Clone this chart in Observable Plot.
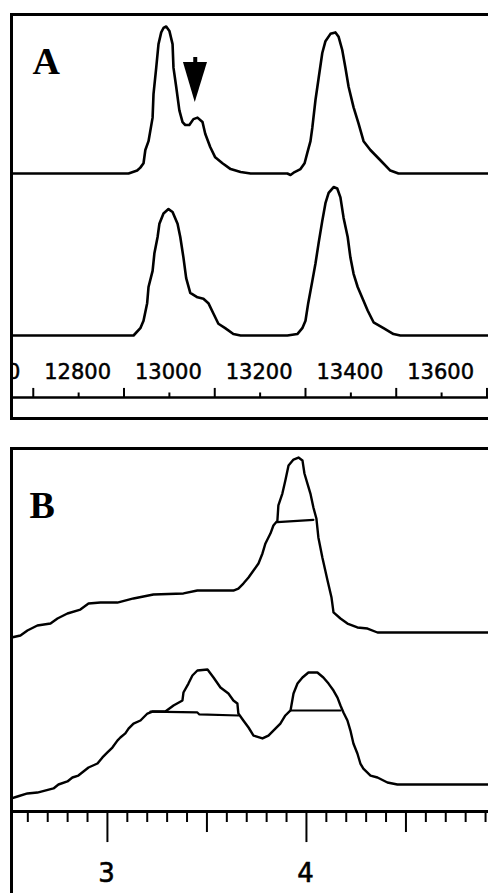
<!DOCTYPE html>
<html><head><meta charset="utf-8">
<script src="https://cdn.jsdelivr.net/npm/d3@7"></script>
<script src="https://cdn.jsdelivr.net/npm/@observablehq/plot@0.6"></script>
<style>
body{margin:0;background:#fff;}
#wrap{width:488px;height:893px;overflow:hidden;position:relative;background:#fff;}
#wrap svg{max-width:none !important;display:block;}
</style></head><body><div id="wrap"></div>
<script>
// ---------- Panel A: mass spectra (m/z) ----------
const massLabeled = [12600, 12800, 13000, 13200, 13400, 13600];
const massLong = [12700, 12900, 13100, 13300, 13500, 13700];
// upper spectrum [mass, intensity]
const specA1 = [[12652,0],[12910,0],[12929,2],[12936,4],[12943,7],[12947,16],[12954,22],[12963,38],[12965,54],[12971,72],[12976,88],[12982,96],[12987,99],[12993,100],[13000,97],[13007,88],[13009,72],[13015,59],[13022,43],[13029,35],[13035,33],[13044,33],[13053,37],[13062,38],[13073,35],[13079,27],[13090,18],[13101,11],[13117,7],[13135,3],[13157,1],[13179,0],[13260,0],[13267,-1],[13276,1],[13289,3],[13298,7],[13304,14],[13311,22],[13315,31],[13322,50],[13329,65],[13337,82],[13344,90],[13355,95],[13366,96],[13373,93],[13381,84],[13388,72],[13395,59],[13406,45],[13417,34],[13428,22],[13443,16],[13465,9],[13487,2],[13505,0],[13721,0]];
// lower spectrum [mass, intensity]
const specA2 = [[12652,0],[12921,0],[12936,5],[12943,10],[12951,22],[12954,33],[12963,44],[12967,56],[12974,67],[12978,76],[12987,83],[12998,86],[13007,84],[13018,76],[13024,67],[13031,53],[13037,39],[13046,29],[13062,26],[13075,25],[13086,22],[13097,15],[13108,8],[13123,5],[13141,1],[13157,0],[13260,0],[13282,1],[13293,5],[13300,10],[13306,22],[13315,37],[13322,49],[13329,63],[13337,78],[13344,90],[13351,97],[13362,101],[13370,100],[13377,94],[13384,80],[13393,67],[13399,53],[13406,42],[13415,33],[13426,25],[13437,17],[13450,9],[13472,5],[13494,1],[13509,0],[13721,0]];
const offsetA = 110.2;
// arrow marking the shoulder (mass, intensity on the stacked scale)
const arrowMass = [13031, 13057, 13084];
const arrowTop = 185.7, arrowTip = 158.5, arrowStemTop = 189.1;

// ---------- Panel B ----------
const bTicks = [2.6,2.7,2.8,2.9,3.0,3.1,3.2,3.3,3.4,3.5,3.6,3.7,3.8,3.9,4.0,4.1,4.2,4.3,4.4,4.5,4.6,4.7,4.8,4.9];
const bLabels = [3, 4];
const traceB1 = [[2.518,-3.3],[2.563,-2.0],[2.598,1.3],[2.648,4.6],[2.714,5.9],[2.749,9.2],[2.799,12.5],[2.864,15.1],[2.905,19.1],[2.965,19.7],[3.050,19.7],[3.131,22.4],[3.231,25.0],[3.382,25.7],[3.452,27.6],[3.633,27.6],[3.658,28.9],[3.683,32.2],[3.709,36.2],[3.734,40.8],[3.759,45.4],[3.779,52.0],[3.794,58.6],[3.819,65.1],[3.834,70.4],[3.854,73.5],[3.859,83.6],[3.879,91.4],[3.894,100.0],[3.910,109.9],[3.935,113.8],[3.960,115.1],[3.980,113.2],[3.990,104.6],[4.005,98.0],[4.020,91.4],[4.035,82.2],[4.050,75.0],[4.060,62.5],[4.080,49.3],[4.106,34.2],[4.126,23.0],[4.136,13.2],[4.171,9.2],[4.206,5.9],[4.256,3.3],[4.307,2.6],[4.357,0],[4.955,0]];
const traceB2 = [[2.518,-9.2],[2.548,-7.9],[2.598,-5.9],[2.648,-5.3],[2.729,-2.6],[2.754,0],[2.799,2.0],[2.824,4.6],[2.854,5.9],[2.905,11.2],[2.950,13.8],[2.975,17.8],[3.000,21.1],[3.025,24.3],[3.050,28.9],[3.065,30.9],[3.090,33.6],[3.106,36.8],[3.131,40.1],[3.166,42.1],[3.201,46.7],[3.226,48.0],[3.291,48.0],[3.332,52.0],[3.377,55.3],[3.382,60.5],[3.407,66.4],[3.427,71.7],[3.452,75.0],[3.503,75.7],[3.533,70.4],[3.568,63.8],[3.608,59.9],[3.633,55.3],[3.653,53.3],[3.658,46.7],[3.683,42.1],[3.709,37.5],[3.734,32.2],[3.779,30.3],[3.809,32.2],[3.844,36.8],[3.869,40.1],[3.894,45.4],[3.920,48.7],[3.935,59.9],[3.955,66.4],[3.980,70.4],[4.010,73.7],[4.055,73.7],[4.085,70.4],[4.111,66.4],[4.136,61.8],[4.156,57.2],[4.171,52.0],[4.186,47.4],[4.206,42.1],[4.221,35.5],[4.236,27.0],[4.256,20.4],[4.271,13.8],[4.286,10.5],[4.322,5.9],[4.357,4.6],[4.407,1.3],[4.457,0],[4.955,0]];
const offsetB = 100;
// half-height lines [x, intensity]
const widthB1 = [[3.854,72.6],[4.035,74.1]];
const widthB2a = [[3.216,48.0],[3.452,47.4],[3.462,46.1],[3.658,45.4]];
const widthB2b = [[3.920,48.7],[4.171,48.7]];

const toObj = (arr, off) => arr.map(([x, y]) => ({x, y: y + off}));

// ---------- Draw A ----------
const axisYA = -42.2, longTopA = -36.0, shortTopA = -39.1, labelYA = -24.8;
const plotA = Plot.plot({
  width: 496, height: 430,
  marginLeft: 11, marginRight: 0, marginTop: 14, marginBottom: 12,
  x: {domain: [12652, 13721], axis: null},
  y: {domain: [-56.46, 218.37], axis: null},
  style: {maxWidth: "none", background: "white"},
  marks: [
    Plot.line(toObj(specA1, offsetA), {x: "x", y: "y", stroke: "black", strokeWidth: 2.6, strokeLinejoin: "round"}),
    Plot.line(toObj(specA2, 0), {x: "x", y: "y", stroke: "black", strokeWidth: 2.6, strokeLinejoin: "round"}),
    Plot.areaY(arrowMass.map((m, i) => ({x: m, y1: arrowTop, y2: i === 1 ? arrowTip : arrowTop})), {x: "x", y1: "y1", y2: "y2", fill: "black"}),
    Plot.ruleX([arrowMass[1]], {x: d => d, y1: () => arrowTop, y2: () => arrowStemTop, stroke: "black", strokeWidth: 4}),
    Plot.ruleY([axisYA], {y: d => d, stroke: "black", strokeWidth: 2.5}),
    Plot.ruleX(massLong, {x: d => d, y1: () => axisYA, y2: () => longTopA, stroke: "black", strokeWidth: 2}),
    Plot.ruleX(massLabeled, {x: d => d, y1: () => axisYA, y2: () => shortTopA, stroke: "black", strokeWidth: 2}),
    Plot.text(massLabeled, {x: d => d, y: () => labelYA, text: d => String(d), dx: -1, fontFamily: "DejaVu Sans", fontSize: 21, textAnchor: "middle", lineAnchor: "middle", fill: "black", stroke: "black", strokeWidth: 0.5, clip: true}),
    Plot.text(["A"], {frameAnchor: "top-left", dx: 21, dy: 59, lineAnchor: "bottom", textAnchor: "start", fontFamily: "Liberation Serif", fontWeight: "bold", fontSize: 38, fill: "black"}),
    Plot.frame({stroke: "black", strokeWidth: 3})
  ]
});

// ---------- Draw B ----------
const axisYB = -17.76, smallEndB = -25.0, midEndB = -31.6, longEndB = -38.2, labelYB = -58.6;
const tickEnd = t => Math.abs(t - Math.round(t)) < 1e-6 ? longEndB : Math.abs(t * 2 - Math.round(t * 2)) < 1e-6 ? midEndB : smallEndB;
const plotB = Plot.plot({
  width: 496, height: 463,
  marginLeft: 11, marginRight: 0, marginTop: 18, marginBottom: 0,
  x: {domain: [2.518, 4.955], axis: null},
  y: {domain: [-71.71, 221.05], axis: null},
  style: {maxWidth: "none", background: "white"},
  marks: [
    Plot.line(toObj(traceB1, offsetB), {x: "x", y: "y", stroke: "black", strokeWidth: 2.4, strokeLinejoin: "round"}),
    Plot.line(toObj(widthB1, offsetB), {x: "x", y: "y", stroke: "black", strokeWidth: 2.2}),
    Plot.line(toObj(traceB2, 0), {x: "x", y: "y", stroke: "black", strokeWidth: 2.4, strokeLinejoin: "round"}),
    Plot.line(toObj(widthB2a, 0), {x: "x", y: "y", stroke: "black", strokeWidth: 2.2}),
    Plot.line(toObj(widthB2b, 0), {x: "x", y: "y", stroke: "black", strokeWidth: 2.2}),
    Plot.ruleY([axisYB], {y: d => d, stroke: "black", strokeWidth: 3}),
    Plot.ruleX(bTicks, {x: d => d, y1: () => axisYB, y2: d => tickEnd(d), stroke: "black", strokeWidth: 2}),
    Plot.text(bLabels, {x: d => d, y: () => labelYB, text: d => String(d), dx: -1, fontFamily: "DejaVu Sans", fontSize: 26, textAnchor: "middle", lineAnchor: "middle", fill: "black", stroke: "black", strokeWidth: 0.6}),
    Plot.text(["B"], {frameAnchor: "top-left", dx: 18, dy: 69, lineAnchor: "bottom", textAnchor: "start", fontFamily: "Liberation Serif", fontWeight: "bold", fontSize: 38, fill: "black"}),
    Plot.frame({stroke: "black", strokeWidth: 3, insetBottom: -20})
  ]
});

const wrap = document.getElementById("wrap");
wrap.appendChild(plotA);
wrap.appendChild(plotB);
</script></body></html>
